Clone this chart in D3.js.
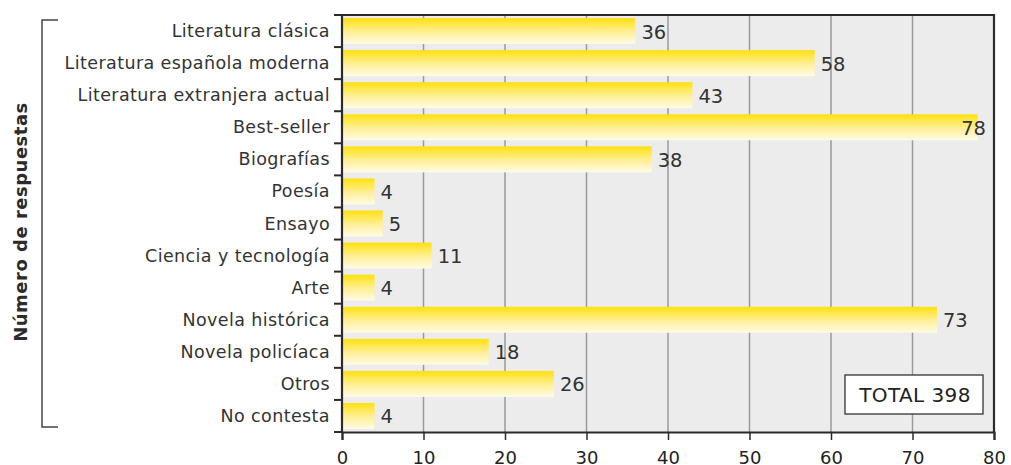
<!DOCTYPE html>
<html>
<head>
<meta charset="utf-8">
<script src="https://cdnjs.cloudflare.com/ajax/libs/d3/7.8.5/d3.min.js"></script>
<style>
  body { margin: 0; background: #fff; }
  svg { display: block; font-family: "DejaVu Sans", sans-serif; }
</style>
</head>
<body>
<svg width="1011" height="465"></svg>
<script>
var categories = ["Literatura clásica", "Literatura española moderna", "Literatura extranjera actual",
  "Best-seller", "Biografías", "Poesía", "Ensayo", "Ciencia y tecnología", "Arte",
  "Novela histórica", "Novela policíaca", "Otros", "No contesta"];
var responses = [36, 58, 43, 78, 38, 4, 5, 11, 4, 73, 18, 26, 4];
var xTicks = [0, 10, 20, 30, 40, 50, 60, 70, 80];
var yTitle = "Número de respuestas";
var totalLabel = "TOTAL 398";

var svg = d3.select("svg");
var plotL = 342, plotR = 994, plotT = 15, plotB = 432;

var x = d3.scaleLinear().domain([0, 80]).range([plotL, plotR]);
var y = d3.scaleBand().domain(categories).range([plotT, plotB]).paddingInner(0.19).paddingOuter(0.095);

var defs = svg.append("defs");
var grad = defs.append("linearGradient").attr("id", "barGrad")
  .attr("x1", 0).attr("y1", 0).attr("x2", 0).attr("y2", 1);
grad.append("stop").attr("offset", "0%").attr("stop-color", "#ffe00f");
grad.append("stop").attr("offset", "55%").attr("stop-color", "#fff09a");
grad.append("stop").attr("offset", "100%").attr("stop-color", "#fffbe6");

// plot background
svg.append("rect").attr("x", plotL).attr("y", plotT)
  .attr("width", plotR - plotL).attr("height", plotB - plotT).attr("fill", "#ececec");

// grid lines
svg.append("g").selectAll("line").data(xTicks.slice(1, -1)).enter().append("line")
  .attr("x1", function(d){ return x(d); }).attr("x2", function(d){ return x(d); })
  .attr("y1", plotT).attr("y2", plotB)
  .attr("stroke", "#9a9a9a").attr("stroke-width", 1.5);

// bars
svg.append("g").selectAll("rect").data(responses).enter().append("rect")
  .attr("x", x(0))
  .attr("y", function(d, i){ return y(categories[i]); })
  .attr("width", function(d){ return x(d) - x(0); })
  .attr("height", y.bandwidth())
  .attr("fill", "url(#barGrad)");

// value labels
var fits = function(d){ return x(d) + 6 + 26 <= plotR; };
svg.append("g").selectAll("text").data(responses).enter().append("text")
  .attr("x", function(d){ return fits(d) ? x(d) + 6 : plotR - 8; })
  .attr("text-anchor", function(d){ return fits(d) ? "start" : "end"; })
  .attr("y", function(d, i){ return y(categories[i]) + y.bandwidth() / 2 + 7.5; })
  .attr("font-size", 19.5).attr("fill", "#333")
  .text(function(d){ return d; });

// frame
svg.append("path")
  .attr("d", "M" + plotL + "," + plotB + "V" + plotT + "H" + plotR + "V" + plotB)
  .attr("fill", "none").attr("stroke", "#2b2b2b").attr("stroke-width", 2.2);

// bottom axis
var xAxis = svg.append("g").attr("transform", "translate(0," + plotB + ")")
  .call(d3.axisBottom(x).tickValues(xTicks).tickSize(8).tickPadding(11));
xAxis.select(".domain").attr("stroke", "#2b2b2b").attr("stroke-width", 2.2);
xAxis.selectAll(".tick line").attr("stroke", "#2b2b2b").attr("stroke-width", 1.5);
xAxis.selectAll(".tick text").attr("font-size", 18).attr("fill", "#222")
  .attr("font-family", "DejaVu Sans, sans-serif");

// left axis ticks at band boundaries
var bounds = d3.range(categories.length + 1).map(function(i){ return plotT + i * (plotB - plotT) / categories.length; });
svg.append("g").selectAll("line").data(bounds).enter().append("line")
  .attr("x1", plotL - 8).attr("x2", plotL).attr("y1", function(d){ return d; }).attr("y2", function(d){ return d; })
  .attr("stroke", "#2b2b2b").attr("stroke-width", 2);

// category labels
svg.append("g").selectAll("text").data(categories).enter().append("text")
  .attr("x", 330).attr("text-anchor", "end")
  .attr("y", function(d){ return y(d) + y.bandwidth() / 2 + 6; })
  .attr("font-size", 17.5).attr("letter-spacing", 0.4).attr("fill", "#333")
  .text(function(d){ return d; });

// bracket and title
svg.append("path").attr("d", "M58,20H42V427H58")
  .attr("fill", "none").attr("stroke", "#444").attr("stroke-width", 1.5);
svg.append("text").attr("transform", "translate(27,222) rotate(-90)")
  .attr("text-anchor", "middle").attr("font-size", 18).attr("letter-spacing", 0.5)
  .attr("font-weight", "bold").attr("fill", "#2b2b2b")
  .text(yTitle);

// total box
var tot = svg.append("g");
tot.append("rect").attr("x", 845).attr("y", 375).attr("width", 138).attr("height", 39)
  .attr("fill", "#fff").attr("stroke", "#333").attr("stroke-width", 1.3);
tot.append("text").attr("x", 915).attr("y", 402).attr("text-anchor", "middle")
  .attr("font-size", 20).attr("letter-spacing", 0.4).attr("fill", "#222").text(totalLabel);
</script>
</body>
</html>
